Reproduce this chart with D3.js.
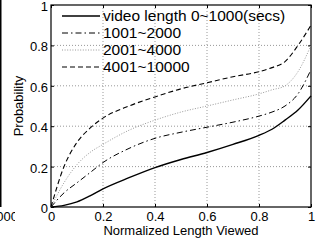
<!DOCTYPE html>
<html lang="en">
<head>
<meta charset="utf-8">
<title>Normalized length viewed</title>
<script src="https://cdn.jsdelivr.net/npm/d3@7"></script>
<style>
  body { margin: 0; background: #fff; }
  svg text { font-family: "Liberation Sans", Arial, sans-serif; fill: #000; }
  .grid line { stroke: #999; stroke-dasharray: 1,2; stroke-width: 1; }
</style>
</head>
<body>
<script>
// data
var xs        = [0, 0.05, 0.1, 0.15, 0.2, 0.3, 0.4, 0.5, 0.6, 0.7, 0.8, 0.85, 0.9, 0.95, 1.0];
var len0_1000     = [0, 0.008, 0.025, 0.055, 0.09, 0.145, 0.195, 0.235, 0.27, 0.31, 0.355, 0.385, 0.43, 0.48, 0.55];
var len1001_2000  = [0, 0.07, 0.12, 0.17, 0.22, 0.29, 0.34, 0.37, 0.395, 0.42, 0.45, 0.47, 0.5, 0.56, 0.68];
var len2001_4000  = [0, 0.12, 0.21, 0.27, 0.31, 0.38, 0.43, 0.47, 0.5, 0.53, 0.56, 0.58, 0.6, 0.67, 0.8];
var len4001_10000 = [0, 0.2, 0.32, 0.39, 0.44, 0.5, 0.545, 0.585, 0.615, 0.645, 0.67, 0.69, 0.72, 0.8, 0.9];
var seriesNames = ["video length 0~1000(secs)", "1001~2000", "2001~4000", "4001~10000"];
var xTicks = [0, 0.2, 0.4, 0.6, 0.8, 1];
var yTicks = [0, 0.2, 0.4, 0.6, 0.8, 1];

var w = 317, h = 245;
var padL = 51, padR = 311, padT = 5, padB = 207;

var svg = d3.select("body").append("svg")
  .attr("width", w).attr("height", h);

var x = d3.scaleLinear().domain([0, 1]).range([padL, padR]);
var y = d3.scaleLinear().domain([0, 1]).range([padB, padT]);

// neighbouring panel, cut off on the left
svg.append("line")
  .attr("x1", 0.75).attr("x2", 0.75).attr("y1", 0).attr("y2", padB)
  .attr("stroke", "#000").attr("stroke-width", 1.5);
svg.append("clipPath").attr("id", "cut")
  .append("rect").attr("x", 0).attr("y", 0).attr("width", 15).attr("height", h);
svg.append("text")
  .attr("clip-path", "url(#cut)")
  .attr("x", 18).attr("y", 221)
  .attr("text-anchor", "end")
  .style("font-size", "13px")
  .text("1000");

// gridlines
svg.append("g").attr("class", "grid")
  .selectAll("line").data(xTicks.slice(1, -1)).enter().append("line")
  .attr("x1", d => x(d)).attr("x2", d => x(d))
  .attr("y1", padT).attr("y2", padB);
svg.append("g").attr("class", "grid")
  .selectAll("line").data(yTicks.slice(1, -1)).enter().append("line")
  .attr("y1", d => y(d)).attr("y2", d => y(d))
  .attr("x1", padL).attr("x2", padR);

// axes, ticks pointing inward
var xAxis = d3.axisBottom(x).tickValues(xTicks).tickSizeInner(-3).tickSizeOuter(0)
  .tickPadding(5).tickFormat(d3.format("~g"));
var yAxis = d3.axisLeft(y).tickValues(yTicks).tickSizeInner(-3).tickSizeOuter(0)
  .tickPadding(3).tickFormat(d3.format("~g"));

var gX = svg.append("g").attr("transform", "translate(0," + padB + ")").call(xAxis);
var gY = svg.append("g").attr("transform", "translate(" + padL + ",0)").call(yAxis);
gY.selectAll(".tick text").attr("dy", "0.42em");
svg.append("g").attr("transform", "translate(0," + padT + ")")
  .call(d3.axisTop(x).tickValues(xTicks).tickSizeInner(-3).tickSizeOuter(0).tickFormat(""));
svg.append("g").attr("transform", "translate(" + padR + ",0)")
  .call(d3.axisRight(y).tickValues(yTicks).tickSizeInner(-3).tickSizeOuter(0).tickFormat(""));
svg.selectAll(".domain").remove();
svg.selectAll(".tick line").attr("stroke", "#000");
svg.selectAll(".tick text").style("font-size", "13px").attr("font-family", null);

// box
svg.append("rect")
  .attr("x", padL).attr("y", padT)
  .attr("width", padR - padL).attr("height", padB - padT)
  .attr("fill", "none").attr("stroke", "#000").attr("stroke-width", 1.2);

// axis titles
svg.append("text")
  .attr("x", (padL + padR) / 2).attr("y", 235)
  .attr("text-anchor", "middle").style("font-size", "13px")
  .text("Normalized Length Viewed");
svg.append("text")
  .attr("transform", "translate(23," + ((padT + padB) / 2) + ") rotate(-90)")
  .attr("text-anchor", "middle").style("font-size", "13px")
  .text("Probability");

// curves
var styles = [
  { dash: null, color: "#000", width: 1.4 },
  { dash: "6,3,1.5,3", color: "#000", width: 1 },
  { dash: "1,1.6", color: "#999", width: 1 },
  { dash: "5,3", color: "#000", width: 1.1 }
];
var allSeries = [len0_1000, len1001_2000, len2001_4000, len4001_10000];

var line = d3.line()
  .x((d, i) => x(xs[i]))
  .y(d => y(d))
  .curve(d3.curveMonotoneX);

svg.append("g").selectAll("path").data(allSeries).enter().append("path")
  .attr("d", d => line(d))
  .attr("fill", "none")
  .attr("stroke", (d, i) => styles[i].color)
  .attr("stroke-width", (d, i) => styles[i].width)
  .attr("stroke-dasharray", (d, i) => styles[i].dash);

// legend (no background)
var legRows = [16, 33, 50, 67];
var leg = svg.append("g").selectAll("g").data(seriesNames).enter().append("g")
  .attr("transform", (d, i) => "translate(0," + legRows[i] + ")");
leg.append("line")
  .attr("x1", 62).attr("x2", 100).attr("y1", 0).attr("y2", 0)
  .attr("stroke", (d, i) => styles[i].color)
  .attr("stroke-width", (d, i) => styles[i].width)
  .attr("stroke-dasharray", (d, i) => styles[i].dash);
leg.append("text")
  .attr("x", 103).attr("y", 5)
  .style("font-size", "15.5px")
  .text(d => d);
</script>
</body>
</html>
